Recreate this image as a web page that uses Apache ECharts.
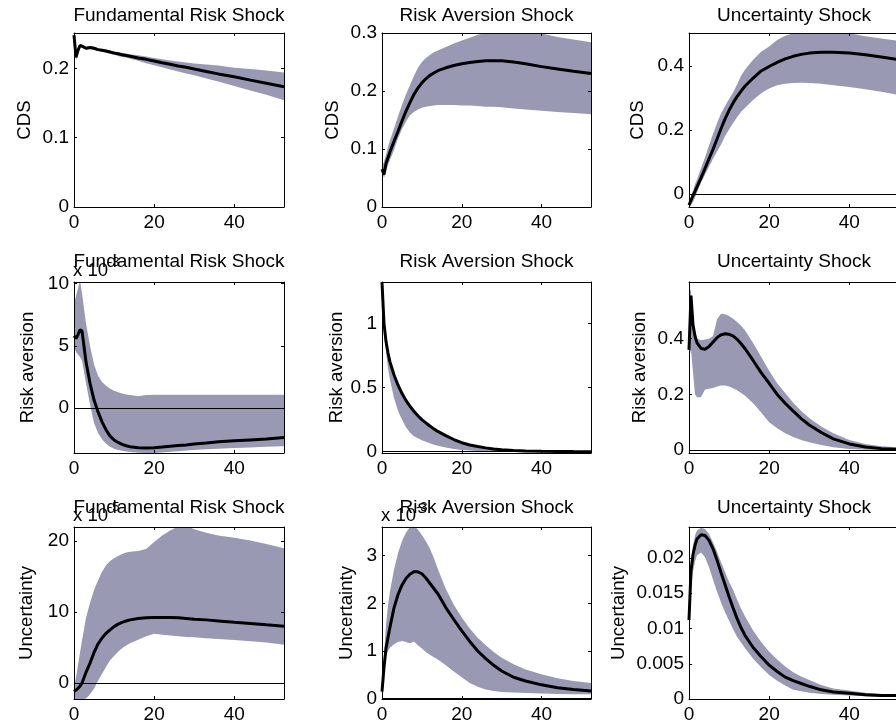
<!DOCTYPE html>
<html><head><meta charset="utf-8">
<script src="https://cdn.jsdelivr.net/npm/echarts@6/dist/echarts.min.js"></script>
<style>html,body{margin:0;padding:0;background:#fff}#c{width:896px;height:728px}</style>
</head><body><div id="c"></div>
<script>
// Horizon (periods) shared by all panels
const xs = [0,0.5,1,1.5,2,3,4,5,6,7,8,9,10,11,12,13,14,16,18,20,22,24,26,28,30,33,36,40,44,48,52.4];
const xTicks = [0,20,40];

// Row 1: CDS
const cdsFundMid = [0.248,0.216,0.226,0.233,0.232,0.229,0.230,0.229,0.227,0.226,0.225,0.2235,0.222,0.221,0.2195,0.2185,0.2175,0.215,0.213,0.2105,0.208,0.206,0.2035,0.2015,0.199,0.1955,0.192,0.188,0.183,0.1785,0.1735];
const cdsFundHi  = [0.25,0.222,0.23,0.235,0.234,0.231,0.232,0.231,0.229,0.228,0.227,0.2255,0.2245,0.2235,0.2225,0.2215,0.2205,0.219,0.217,0.215,0.213,0.2115,0.21,0.2085,0.207,0.2055,0.204,0.201,0.199,0.197,0.194];
const cdsFundLo  = [0.245,0.212,0.222,0.231,0.23,0.227,0.228,0.227,0.225,0.224,0.2225,0.221,0.2195,0.218,0.2165,0.2155,0.214,0.211,0.2075,0.2045,0.2015,0.1985,0.1955,0.1925,0.19,0.1855,0.181,0.1745,0.168,0.162,0.154];

const cdsRAMid = [0.065,0.056,0.075,0.085,0.095,0.113,0.13,0.148,0.165,0.18,0.194,0.205,0.214,0.221,0.227,0.231,0.235,0.240,0.244,0.247,0.249,0.251,0.252,0.252,0.252,0.250,0.247,0.242,0.238,0.234,0.230];
const cdsRAHi  = [0.07,0.078,0.09,0.103,0.115,0.135,0.156,0.176,0.194,0.21,0.226,0.24,0.25,0.257,0.262,0.267,0.270,0.276,0.282,0.287,0.292,0.297,0.300,0.303,0.304,0.305,0.303,0.299,0.293,0.289,0.284];
const cdsRALo  = [0.06,0.05,0.062,0.072,0.081,0.098,0.118,0.134,0.147,0.158,0.164,0.168,0.171,0.173,0.174,0.175,0.176,0.176,0.176,0.175,0.175,0.174,0.173,0.173,0.172,0.170,0.168,0.166,0.164,0.162,0.160];

const cdsUncMid = [-0.035,-0.02,-0.005,0.008,0.022,0.05,0.08,0.11,0.14,0.172,0.205,0.235,0.262,0.285,0.305,0.322,0.338,0.363,0.385,0.399,0.412,0.423,0.431,0.437,0.441,0.444,0.444,0.441,0.436,0.429,0.42];
const cdsUncHi  = [-0.03,-0.01,0.01,0.03,0.045,0.08,0.115,0.152,0.188,0.222,0.252,0.275,0.297,0.318,0.343,0.37,0.39,0.42,0.445,0.462,0.482,0.495,0.503,0.507,0.509,0.51,0.508,0.503,0.494,0.487,0.479];
const cdsUncLo  = [-0.04,-0.035,-0.025,-0.012,0.005,0.035,0.06,0.085,0.11,0.133,0.155,0.181,0.202,0.222,0.24,0.257,0.27,0.294,0.315,0.33,0.34,0.345,0.347,0.348,0.347,0.345,0.34,0.335,0.328,0.32,0.31];

// Row 2: Risk aversion (Fundamental panel in units of 1e-3)
const raFundMid = [5.8,5.6,5.9,6.3,6.2,3.7,2.0,0.65,-0.3,-1.1,-1.75,-2.25,-2.55,-2.75,-2.9,-3.02,-3.1,-3.18,-3.2,-3.17,-3.12,-3.05,-3.0,-2.95,-2.88,-2.8,-2.7,-2.62,-2.55,-2.48,-2.35];
const raFundHi  = [8.4,9.0,9.6,10.3,9.2,6.8,5.0,3.5,2.6,2.1,1.8,1.55,1.4,1.28,1.18,1.1,1.05,0.95,1.05,1.07,1.07,1.07,1.07,1.07,1.07,1.07,1.07,1.07,1.07,1.07,1.07];
const raFundLo  = [4.8,4.5,4.3,4.1,3.8,2.0,0.3,-1.2,-2.0,-2.5,-2.85,-3.1,-3.25,-3.35,-3.42,-3.48,-3.52,-3.58,-3.6,-3.6,-3.55,-3.5,-3.45,-3.4,-3.35,-3.3,-3.25,-3.2,-3.15,-3.1,-3.05];

const raRAMid = [1.32,1.0,0.86,0.77,0.70,0.60,0.52,0.455,0.40,0.355,0.315,0.28,0.25,0.225,0.2,0.178,0.158,0.125,0.095,0.07,0.052,0.04,0.03,0.022,0.016,0.01,0.006,0.003,0.002,0.001,0.0005];
const raRAHi  = [1.33,1.02,0.88,0.78,0.71,0.61,0.53,0.46,0.405,0.36,0.32,0.285,0.255,0.23,0.205,0.183,0.163,0.13,0.1,0.075,0.056,0.043,0.033,0.025,0.019,0.013,0.008,0.005,0.003,0.002,0.001];
const raRALo  = [1.3,0.95,0.78,0.65,0.56,0.42,0.32,0.25,0.19,0.15,0.12,0.105,0.09,0.077,0.065,0.055,0.046,0.032,0.022,0.014,0.009,0.006,0.004,0.002,0.001,0,0,0,0,0,0];

const raUncMid = [0.36,0.555,0.45,0.41,0.385,0.365,0.362,0.372,0.388,0.404,0.414,0.418,0.416,0.41,0.398,0.382,0.364,0.322,0.278,0.24,0.2,0.168,0.14,0.113,0.09,0.063,0.04,0.022,0.011,0.005,0.002];
const raUncHi  = [0.59,0.57,0.47,0.42,0.40,0.395,0.397,0.40,0.41,0.47,0.49,0.488,0.482,0.472,0.46,0.447,0.43,0.385,0.335,0.285,0.24,0.205,0.17,0.14,0.115,0.085,0.06,0.036,0.022,0.014,0.009];
const raUncLo  = [0.33,0.36,0.28,0.2,0.19,0.19,0.218,0.22,0.223,0.228,0.232,0.232,0.228,0.222,0.215,0.205,0.195,0.168,0.135,0.1,0.078,0.06,0.047,0.036,0.028,0.018,0.01,0.004,0.001,0,0];

// Row 3: Uncertainty (Fundamental in 1e-5, Risk aversion in 1e-3)
const unFundMid = [-1.2,-1.0,-0.75,-0.45,0.0,1.5,2.8,4.3,5.5,6.35,7.0,7.5,7.95,8.3,8.55,8.75,8.9,9.1,9.2,9.25,9.25,9.25,9.2,9.1,9.0,8.9,8.75,8.55,8.4,8.2,8.0];
const unFundHi  = [-0.5,0.8,2.5,4.3,6.0,9.2,11.3,13.1,14.5,15.7,16.6,17.2,17.6,17.9,18.2,18.4,18.5,18.6,18.9,19.9,20.8,21.5,22.1,22.2,21.7,21.2,20.8,20.5,20.1,19.6,19.0];
const unFundLo  = [-2.3,-2.3,-2.3,-2.3,-2.3,-2.2,-1.6,-0.8,0.3,1.3,2.3,3.2,3.8,4.4,4.9,5.3,5.6,6.1,6.6,6.95,6.8,6.7,6.6,6.5,6.45,6.3,6.2,6.05,5.9,5.7,5.4];

const unRAMid = [0.15,0.65,1.05,1.28,1.5,1.9,2.18,2.38,2.52,2.61,2.66,2.66,2.62,2.53,2.42,2.31,2.2,1.91,1.66,1.42,1.2,1.0,0.84,0.7,0.58,0.45,0.37,0.29,0.23,0.19,0.16];
const unRAHi  = [0.35,0.9,1.55,1.95,2.25,2.7,3.05,3.3,3.48,3.6,3.62,3.55,3.43,3.3,3.15,2.95,2.72,2.3,1.97,1.7,1.47,1.28,1.12,0.98,0.86,0.72,0.61,0.51,0.43,0.37,0.33];
const unRALo  = [0.1,0.55,0.9,1.0,1.07,1.14,1.19,1.21,1.19,1.16,1.2,1.12,1.05,0.98,0.92,0.87,0.82,0.7,0.57,0.45,0.33,0.25,0.19,0.16,0.14,0.13,0.12,0.11,0.1,0.09,0.09];

const unUncMid = [0.0112,0.0182,0.0205,0.0218,0.0227,0.0233,0.0232,0.0225,0.0213,0.0197,0.0179,0.0162,0.0145,0.0129,0.0114,0.0101,0.009,0.0073,0.006,0.0048,0.0039,0.0031,0.0026,0.0022,0.0018,0.0013,0.001,0.0008,0.0006,0.0005,0.0005];
const unUncHi  = [0.0118,0.0192,0.0218,0.0232,0.0239,0.0243,0.0241,0.0234,0.0222,0.0209,0.0194,0.018,0.0166,0.0155,0.0141,0.0128,0.0117,0.0097,0.0081,0.0067,0.0056,0.0046,0.0038,0.0032,0.0027,0.002,0.0015,0.0012,0.0009,0.0007,0.0006];
const unUncLo  = [0.0105,0.0158,0.018,0.0195,0.0204,0.0208,0.0201,0.0187,0.0169,0.0152,0.0137,0.0123,0.0111,0.0099,0.0088,0.008,0.0072,0.0057,0.0045,0.0034,0.0026,0.0019,0.0013,0.0011,0.0009,0.0007,0.0006,0.0005,0.0004,0.0003,0.0003];

// Tick labels
const ticksCdsFund = [0,0.1,0.2];
const ticksCdsRA = [0,0.1,0.2,0.3];
const ticksCdsUnc = [0,0.2,0.4];
const ticksRaFund = [0,5,10];
const ticksRaRA = [0,0.5,1];
const ticksRaUnc = [0,0.2,0.4];
const ticksUnFund = [0,10,20];
const ticksUnRA = [0,1,2,3];
const ticksUnUnc = [0,0.005,0.01,0.015,0.02];

const titles = ['Fundamental Risk Shock','Risk Aversion Shock','Uncertainty Shock'];
const rowLabels = ['CDS','Risk aversion','Uncertainty'];

const panels = [
  {mid:cdsFundMid, hi:cdsFundHi, lo:cdsFundLo, ticks:ticksCdsFund, ymin:0, ymax:0.251, exp:null, gap:40},
  {mid:cdsRAMid, hi:cdsRAHi, lo:cdsRALo, ticks:ticksCdsRA, ymin:0, ymax:0.3, exp:null, gap:40},
  {mid:cdsUncMid, hi:cdsUncHi, lo:cdsUncLo, ticks:ticksCdsUnc, ymin:-0.041, ymax:0.504, exp:null, gap:42},
  {mid:raFundMid, hi:raFundHi, lo:raFundLo, ticks:ticksRaFund, ymin:-3.6, ymax:10.13, exp:'-3', gap:37},
  {mid:raRAMid, hi:raRAHi, lo:raRALo, ticks:ticksRaRA, ymin:-0.01, ymax:1.322, exp:null, gap:36},
  {mid:raUncMid, hi:raUncHi, lo:raUncLo, ticks:ticksRaUnc, ymin:-0.0107, ymax:0.604, exp:null, gap:40},
  {mid:unFundMid, hi:unFundHi, lo:unFundLo, ticks:ticksUnFund, ymin:-2.26, ymax:22.0, exp:'-5', gap:38},
  {mid:unRAMid, hi:unRAHi, lo:unRALo, ticks:ticksUnRA, ymin:-0.007, ymax:3.6, exp:'-3', gap:26},
  {mid:unUncMid, hi:unUncHi, lo:unUncLo, ticks:ticksUnUnc, ymin:0, ymax:0.0244, exp:null, gap:61}
];

const X_MAX = 52.4;
const FONT = '"Liberation Sans", Arial, Helvetica, sans-serif';
const BAND = '#9999b3';
const colLeft = [74, 382, 689], colWidth = [210, 209, 210];
const rowTop = [33, 282, 527], rowHeight = [174, 171, 172];
const titleY = [16, 262, 508];

const grids = [], xAxes = [], yAxes = [], series = [], graphics = [];
panels.forEach((p, i) => {
  const r = Math.floor(i / 3), c = i % 3;
  grids.push({left: colLeft[c], top: rowTop[r], width: colWidth[c], height: rowHeight[r], outerBoundsMode: 'none', containLabel: false});
  const axLine = {show: true, onZero: false, lineStyle: {color: '#000', width: 1}};
  const tickStyle = (vals) => ({show: true, inside: true, length: 3, lineStyle: {color: '#000', width: 1}, customValues: vals});
  const lab = (vals, show, margin) => ({show: show, customValues: vals, margin: margin, fontSize: 19, fontFamily: FONT, color: '#000'});
  xAxes.push({type: 'value', gridIndex: i, min: 0, max: X_MAX, position: 'bottom', z: 6, axisLine: axLine, axisTick: tickStyle(xTicks), axisLabel: lab(xTicks, true, 6), splitLine: {show: false}});
  xAxes.push({type: 'value', gridIndex: i, min: 0, max: X_MAX, position: 'top', z: 6, axisLine: axLine, axisTick: tickStyle(xTicks), axisLabel: lab(xTicks, false, 6), splitLine: {show: false}});
  yAxes.push({type: 'value', gridIndex: i, min: p.ymin, max: p.ymax, position: 'left', z: 6, axisLine: axLine, axisTick: tickStyle(p.ticks), axisLabel: lab(p.ticks, true, 5), splitLine: {show: false},
    name: rowLabels[r], nameLocation: 'middle', nameRotate: 90, nameGap: p.gap, nameTextStyle: {fontSize: 18.6, fontFamily: FONT, color: '#000'}});
  yAxes.push({type: 'value', gridIndex: i, min: p.ymin, max: p.ymax, position: 'right', z: 6, axisLine: axLine, axisTick: tickStyle(p.ticks), axisLabel: lab(p.ticks, false, 5), splitLine: {show: false}});
  const xi = 2 * i, yi = 2 * i;
  // upper bound: filled down to the axis floor with the band colour
  series.push({type: 'line', xAxisIndex: xi, yAxisIndex: yi, symbol: 'none', silent: true, z: 2,
    lineStyle: {width: 0, opacity: 0}, areaStyle: {color: BAND, opacity: 1, origin: 'start'},
    data: xs.map((x, k) => [x, p.hi[k]])});
  // lower bound: white fill below it, leaving the band between the bounds
  const lower = {type: 'line', xAxisIndex: xi, yAxisIndex: yi, symbol: 'none', silent: true, z: 3,
    lineStyle: {width: 0, opacity: 0}, areaStyle: {color: '#ffffff', opacity: 1, origin: 'start'},
    data: xs.map((x, k) => [x, p.lo[k]])};
  if (p.ymin < 0) {
    lower.markLine = {silent: true, symbol: 'none', label: {show: false}, animation: false, z: 4,
      lineStyle: {color: '#000', width: 1, type: 'solid'}, data: [{yAxis: 0}]};
  }
  series.push(lower);
  series.push({type: 'line', xAxisIndex: xi, yAxisIndex: yi, symbol: 'none', silent: true, z: 5,
    lineStyle: {color: '#000', width: 3}, data: xs.map((x, k) => [x, p.mid[k]])});
  graphics.push({type: 'text', silent: true, style: {text: titles[c], x: colLeft[c] + colWidth[c] / 2, y: titleY[r],
    align: 'center', verticalAlign: 'middle', font: '19px ' + FONT, fill: '#000'}});
  if (p.exp) {
    graphics.push({type: 'text', silent: true, style: {text: 'x 10', x: colLeft[c] - 1, y: rowTop[r] - 2,
      align: 'left', verticalAlign: 'bottom', font: '18.6px ' + FONT, fill: '#000'}});
    graphics.push({type: 'text', silent: true, style: {text: p.exp, x: colLeft[c] + 34, y: rowTop[r] - 13,
      align: 'left', verticalAlign: 'bottom', font: '13px ' + FONT, fill: '#000'}});
  }
});

const chart = echarts.init(document.getElementById('c'), null, {renderer: 'canvas'});
chart.setOption({animation: false, backgroundColor: '#fff', grid: grids, xAxis: xAxes, yAxis: yAxes, series: series, graphic: graphics});
</script></body></html>
